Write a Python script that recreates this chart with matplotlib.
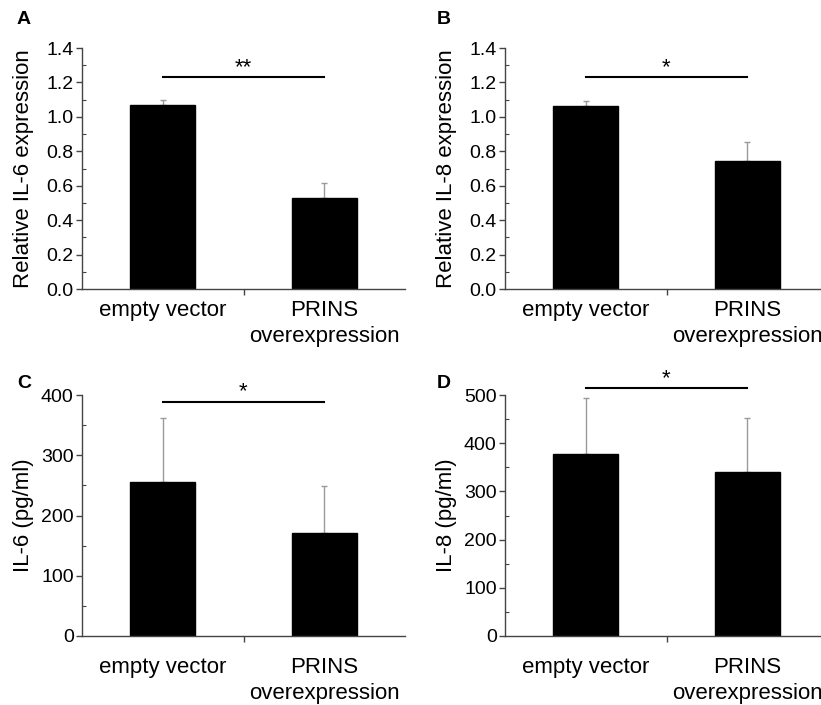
import matplotlib
matplotlib.use("Agg")
import matplotlib.pyplot as plt
from matplotlib.ticker import MultipleLocator, FixedLocator

plt.rcParams['font.family'] = ['Liberation Sans', 'DejaVu Sans']

# ---------------------------------------------------------------------------
# Data
# ---------------------------------------------------------------------------
groups = ["empty vector", "PRINS\noverexpression"]

il6_rel = [1.07, 0.53]
il6_rel_err = [0.03, 0.085]

il8_rel = [1.065, 0.745]
il8_rel_err = [0.025, 0.11]

il6_conc = [256, 171]
il6_conc_err = [105, 78]

il8_conc = [378, 340]
il8_conc_err = [116, 112]

panels = [
    # letter, values, errors, ylabel, ymax, major, minor, sig line y, stars
    ("A", il6_rel, il6_rel_err, "Relative IL-6 expression", 1.4, 0.2, 0.1, 1.232, "**"),
    ("B", il8_rel, il8_rel_err, "Relative IL-8 expression", 1.4, 0.2, 0.1, 1.232, "*"),
    ("C", il6_conc, il6_conc_err, "IL-6 (pg/ml)", 400, 100, 50, 389, "*"),
    ("D", il8_conc, il8_conc_err, "IL-8 (pg/ml)", 500, 100, 50, 514, "*"),
]

W, H = 821, 705
fig = plt.figure(figsize=(W / 100, H / 100), dpi=100)

# axes boxes in pixels: left, bottom(y of x-axis from top), top
boxes = [(82, 289, 48), (505, 289, 48), (82, 636, 395), (505, 636, 395)]
span = 2 * 161.5  # pixel width of the x range (-0.5, 1.5)
axis_col = "#444444"

for (letter, vals, errs, ylab, ymax, major, minor, sig_y, stars), (l, b, t) in zip(panels, boxes):
    ax = fig.add_axes([l / W, (H - b) / H, span / W, (b - t) / H])
    x = [0, 1]
    ax.bar(x, vals, width=0.405, color="black", edgecolor="black", linewidth=1, zorder=2)
    ax.errorbar(x, vals, yerr=[[0, 0], errs], fmt="none", ecolor="#9a9a9a",
                elinewidth=1, capsize=2, capthick=1, zorder=1)

    ax.set_xlim(-0.5, 1.5)
    ax.set_ylim(0, ymax)
    for s in ("top", "right"):
        ax.spines[s].set_visible(False)
    for s in ("left", "bottom"):
        ax.spines[s].set_color(axis_col)
        ax.spines[s].set_linewidth(1)

    ax.yaxis.set_major_locator(MultipleLocator(major))
    ax.yaxis.set_minor_locator(MultipleLocator(minor))
    if major < 1:
        ax.yaxis.set_major_formatter(matplotlib.ticker.FormatStrFormatter("%.1f"))
    ax.tick_params(axis="y", which="major", direction="out", length=4, width=1,
                   color=axis_col, labelsize=14, pad=2)
    ax.tick_params(axis="y", which="minor", direction="in", length=3, width=0.8,
                   color=axis_col)

    ax.set_xticks(x)
    ax.set_xticklabels(groups, fontsize=16, linespacing=1.3)
    ax.xaxis.set_minor_locator(FixedLocator([0.5]))
    pad = 8 if t < 100 else 15
    ax.tick_params(axis="x", which="major", length=0, pad=pad)
    ax.tick_params(axis="x", which="minor", direction="out", length=4, width=1,
                   color=axis_col)

    ax.set_ylabel(ylab, fontsize=16)
    ax.yaxis.set_label_coords(-0.15, 0.5)

    # significance bar
    ax.plot([0, 1], [sig_y, sig_y], color="black", lw=1.5, clip_on=False)
    ax.annotate(stars, xy=(0.5, sig_y), xytext=(0, 3), textcoords="offset points",
                ha="center", va="baseline", fontsize=16,
                annotation_clip=False)

    # panel letter
    lx = 24 if l < 100 else 444
    ly = 20 if t < 100 else 383
    fig.text(lx / W, 1 - ly / H, letter, fontsize=14, fontweight="bold",
             ha="center", va="center")

fig.savefig("out.png", dpi=100, facecolor="white")
